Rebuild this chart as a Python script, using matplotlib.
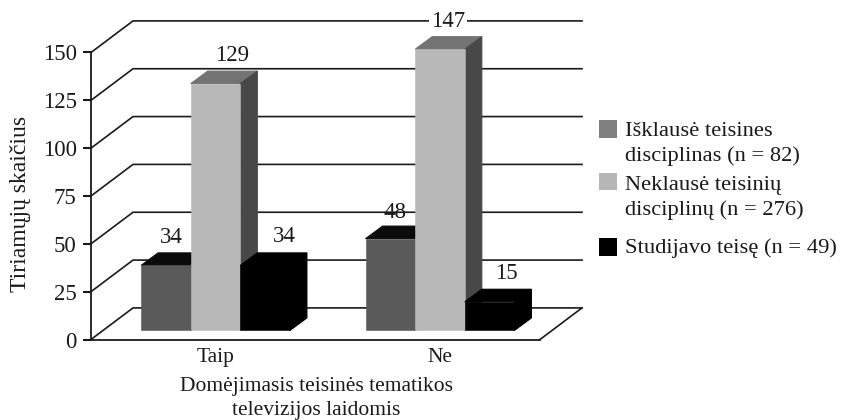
import matplotlib
matplotlib.use("Agg")
import matplotlib.pyplot as plt
from matplotlib.patches import Rectangle
import numpy as np

plt.rcParams['font.family'] = ['Liberation Serif', 'DejaVu Serif']

# --- Data ---
CATEGORIES = ["Taip", "Ne"]
ISKLAUSE = [34, 48]
NEKLAUSE = [129, 147]
STUDIJAVO = [34, 15]
Y_TICKS = [0, 25, 50, 75, 100, 125, 150]
LEGEND_LABELS = [
    "Išklausė teisines\ndisciplinas (n = 82)",
    "Neklausė teisinių\ndisciplinų (n = 276)",
    "Studijavo teisę (n = 49)",
]

# --- Style (front, top, side colours per series) ---
SERIES_COLORS = [
    ("#5a5a5a", "#0b0b0b", "#484848"),
    ("#b8b8b8", "#737373", "#484848"),
    ("#000000", "#000000", "#000000"),
]
LEGEND_COLORS = ["#808080", "#b6b6b6", "#000000"]
LABEL_OFFSETS = [[(5, 0), (17, 0), (19, 1)], [(5, -2), (8, 0), (17, 0)]]  # px, per bar

W, H = 841, 420
X_UNIT = 224.5  # px per category
Y_UNIT = 47.7 / 25  # px per count
WALL_DX, WALL_DY = 42 / X_UNIT, 31.5 / Y_UNIT
BAR_DX, BAR_DY = 17 / X_UNIT, 12.5 / Y_UNIT
BAR_BASE = 9 / Y_UNIT
BAR_W = 49.6 / X_UNIT
LABEL_GAP = 28 / Y_UNIT
LINE = "#1a1a1a"

fig = plt.figure(figsize=(W / 100, H / 100), dpi=100)
ax = fig.add_axes([91 / W, (H - 339.5) / H, 449 / W, 287 / H])
ax.set_xlim(-0.5546, 1.4454)
ax.set_ylim(0, 150)

# walls and floor
x0, x1 = ax.get_xlim()
for v in Y_TICKS:
    ax.plot([x0, x0 + WALL_DX, x1 + WALL_DX], [v, v + WALL_DY, v + WALL_DY],
            color=LINE, lw=1.2, clip_on=False, zorder=1)
ax.plot([x1, x1 + WALL_DX], [0, WALL_DY], color=LINE, lw=1.2, clip_on=False, zorder=1)

# bars, left to right so the later ones cover the earlier ones
series = [ISKLAUSE, NEKLAUSE, STUDIJAVO]
positions = np.arange(len(CATEGORIES))
for cat_idx, pos in enumerate(positions):
    for s_idx, values in enumerate(series):
        val = values[cat_idx]
        left = pos + (s_idx - 1.5) * BAR_W
        right = left + BAR_W
        top = val + BAR_BASE
        front, top_col, side = SERIES_COLORS[s_idx]
        z = 2 + cat_idx + s_idx * 0.1
        ax.fill([left, left + BAR_DX, right + BAR_DX, right],
                [top, top + BAR_DY, top + BAR_DY, top], facecolor=top_col, edgecolor=top_col,
                lw=0.8, clip_on=False, zorder=z)
        ax.fill([right, right + BAR_DX, right + BAR_DX, right],
                [BAR_BASE, BAR_BASE + BAR_DY, top + BAR_DY, top], facecolor=side, edgecolor=side,
                lw=0.8, clip_on=False, zorder=z)
        ax.bar(left, val, width=BAR_W, bottom=BAR_BASE, align="edge", color=front, edgecolor=front,
               lw=0.4, clip_on=False, zorder=z + 0.01)
        dx, dy = LABEL_OFFSETS[cat_idx][s_idx]
        # the 147 label sits on a grid line and breaks it
        bbox = dict(facecolor="white", edgecolor="none", pad=1.5) if val == 147 else None
        ax.annotate(str(val), (left + BAR_W / 2, top + LABEL_GAP), xytext=(dx * 0.72, dy * 0.72),
                    textcoords="offset points", ha="center", va="center", fontsize=16.5,
                    color="#1a1a1a", zorder=6, bbox=bbox, annotation_clip=False)

# axes
for name in ["top", "right"]:
    ax.spines[name].set_visible(False)
for name in ["left", "bottom"]:
    ax.spines[name].set_color(LINE)
    ax.spines[name].set_linewidth(1.3)
    ax.spines[name].set_zorder(5)
ax.patch.set_visible(False)
ax.set_yticks(Y_TICKS)
ax.tick_params(axis="y", labelsize=16.5, length=5.8, width=1.5, pad=4.5, colors="#1a1a1a")
ax.set_xticks(positions)
ax.set_xticklabels(CATEGORIES)
ax.tick_params(axis="x", labelsize=15.5, length=0, pad=6, colors="#1a1a1a")

fig.text(21 / W, 1 - 203.5 / H, "Tiriamųjų skaičius", rotation=90, ha="center", va="center",
         fontsize=17, color="#1a1a1a")
fig.text(316 / W, 1 - 398.5 / H, "Domėjimasis teisinės tematikos\ntelevizijos laidomis",
         ha="center", va="center", fontsize=15.5, color="#1a1a1a", linespacing=1.3)

# legend, spacing is uneven so it is placed by hand
legend_y = [144, 198, 248.5]
swatch_y = [128.5, 181.5, 247]
for label, color, ty, sy in zip(LEGEND_LABELS, LEGEND_COLORS, legend_y, swatch_y):
    fig.add_artist(Rectangle((598.5 / W, 1 - (sy + 9) / H), 18.5 / W, 18 / H,
                             transform=fig.transFigure, facecolor=color, edgecolor="none"))
    fig.text(625 / W, 1 - ty / H, label, ha="left", va="center", fontsize=16.2,
             color="#1a1a1a", linespacing=1.41)

fig.savefig("out.png", dpi=100)
